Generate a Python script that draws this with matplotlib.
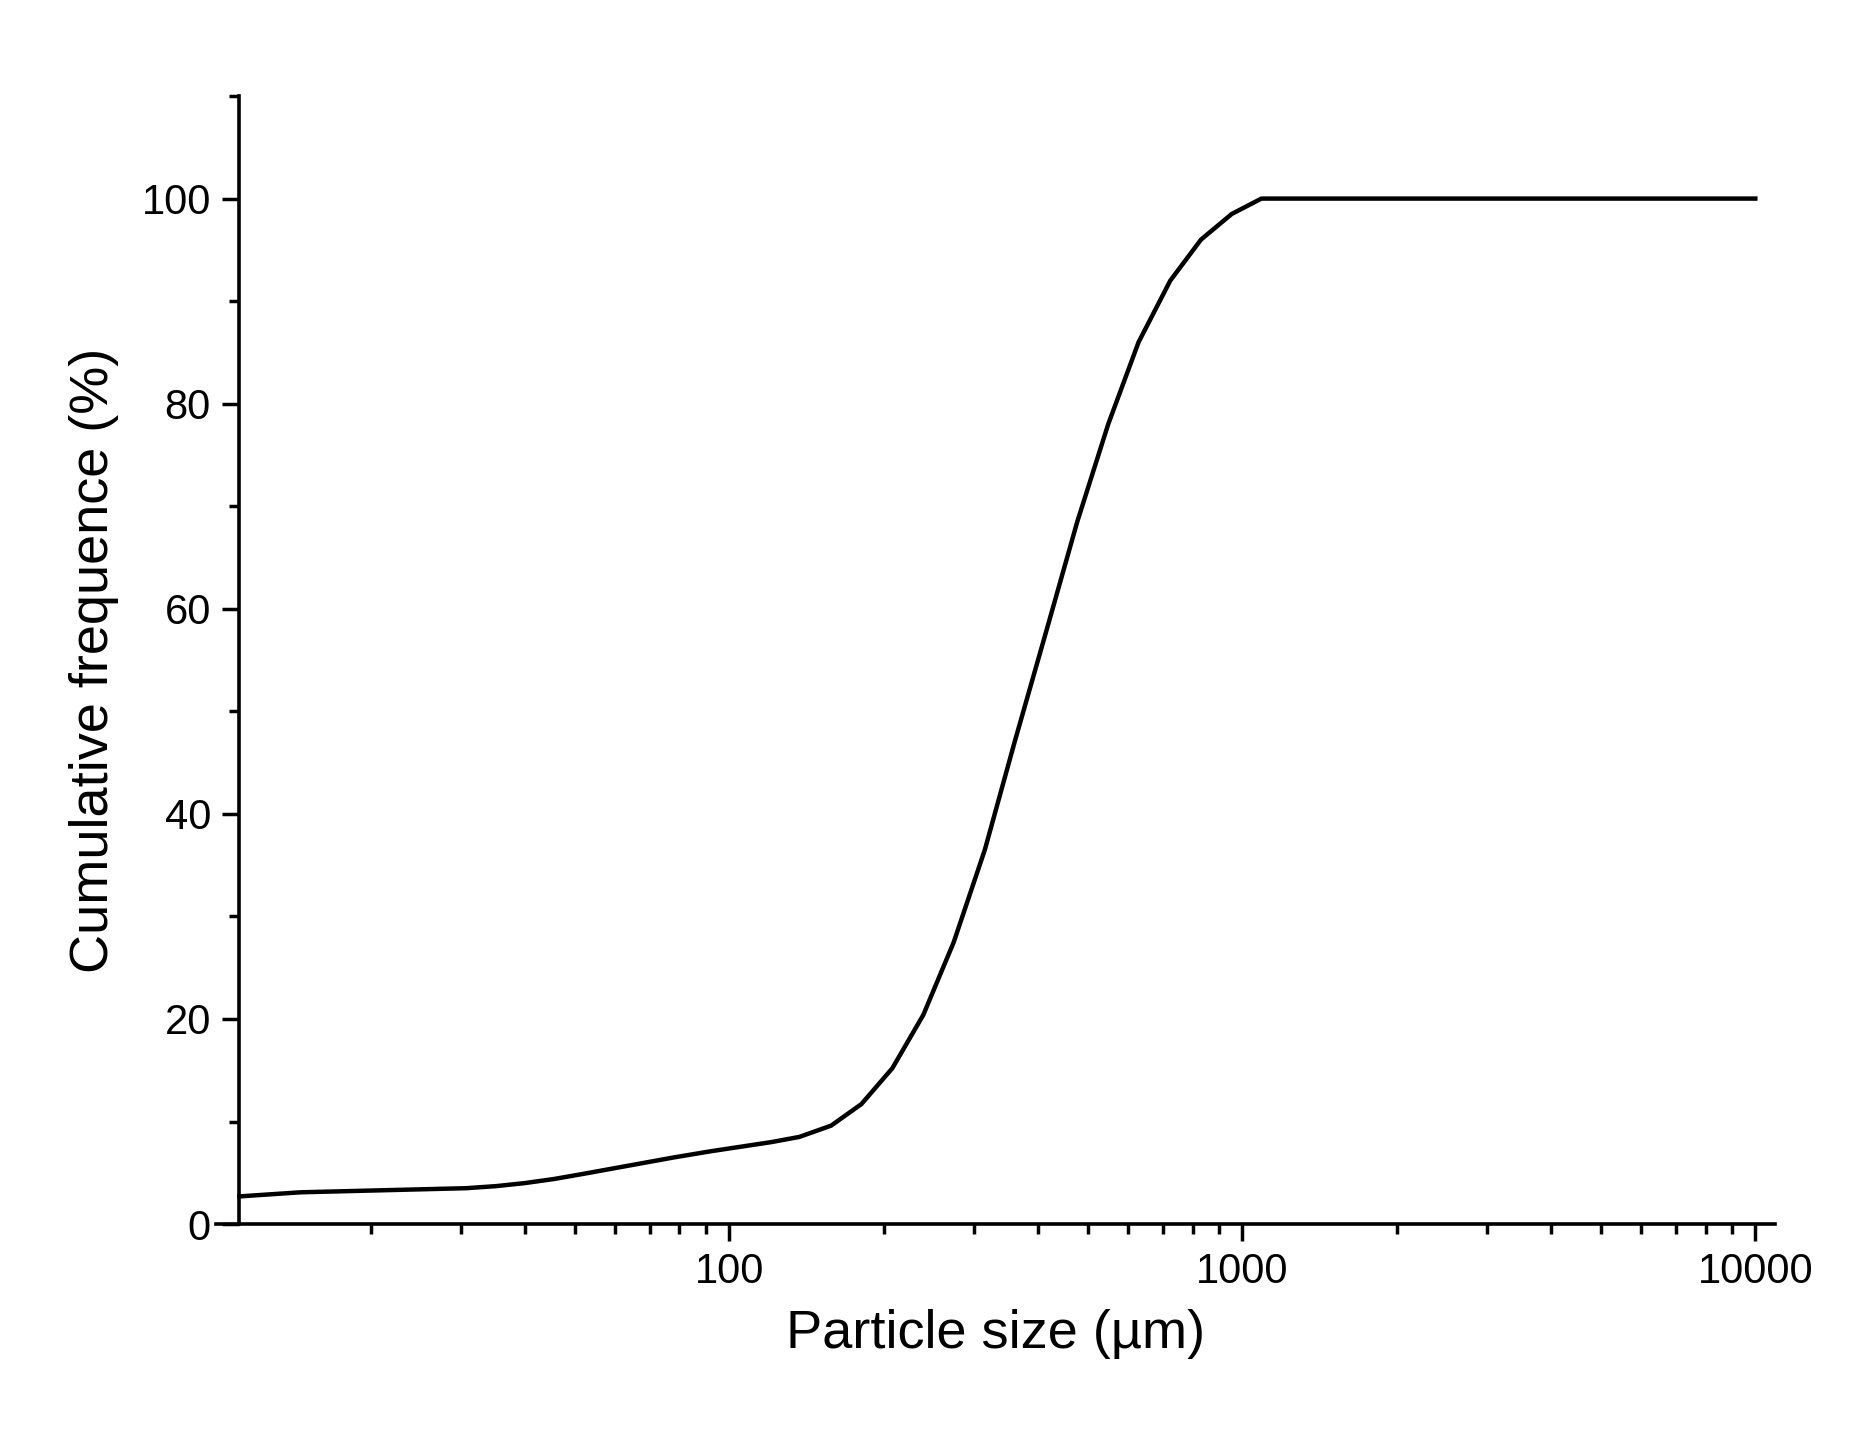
import matplotlib
matplotlib.use("Agg")
import matplotlib.pyplot as plt
from matplotlib.ticker import FixedLocator, NullFormatter, MultipleLocator

plt.rcParams['font.family'] = ['Liberation Sans', 'DejaVu Sans']

size_um = [11.1, 14.6, 30.7, 35.1, 40, 45.6, 52, 78, 92, 121, 137, 158, 181, 208, 239,
           274, 315, 360, 416, 477, 548, 628, 724, 831, 954, 1090, 10000]
cum_freq = [2.7, 3.1, 3.5, 3.7, 4.0, 4.4, 4.9, 6.5, 7.1, 8.0, 8.5, 9.6, 11.7, 15.2, 20.4,
            27.5, 36.5, 47, 58, 68.5, 78, 86, 92, 96, 98.5, 100, 100]

fig = plt.figure(figsize=(18.63, 14.55), dpi=100)
ax = fig.add_axes([0.116, 0.1587, 0.8365, 0.7753])
ax.plot(size_um, cum_freq, color='black', lw=3.2)
ax.set_xscale('log')
ax.set_xlim(10, 10900)
ax.set_ylim(0, 110)
ax.spines['top'].set_visible(False)
ax.spines['right'].set_visible(False)
ax.spines['left'].set_position(('axes', 0.0145))
for s in ax.spines.values():
    s.set_linewidth(2.6)
ax.set_xticks([100, 1000, 10000])
ax.set_xticklabels(['100', '1000', '10000'])
ax.xaxis.set_minor_locator(FixedLocator([k * 10**e for e in range(1, 4) for k in range(2, 10)]))
ax.xaxis.set_minor_formatter(NullFormatter())
ax.set_yticks([0, 20, 40, 60, 80, 100])
ax.yaxis.set_minor_locator(MultipleLocator(10))
ax.tick_params(which='major', length=12, width=2.5, labelsize=30, direction='out', pad=8)
ax.tick_params(which='minor', length=7, width=2.5, direction='out')
ax.set_xlabel('Particle size (µm)', fontsize=39, labelpad=12)
ax.set_ylabel('Cumulative frequence (%)', fontsize=39, labelpad=16)
fig.savefig('out.png', dpi=100)
